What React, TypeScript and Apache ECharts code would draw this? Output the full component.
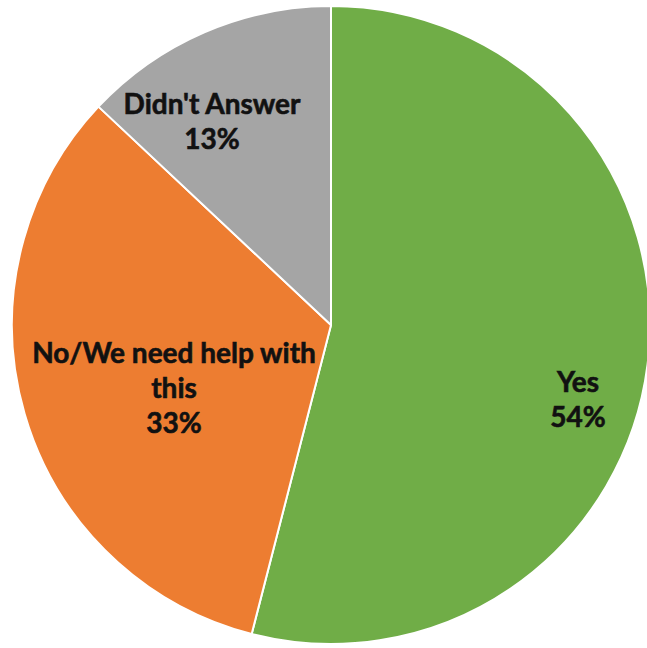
import React, { useEffect, useRef } from "react";
import * as echarts from "echarts";

const categories = ["Yes", "No/We need help with\nthis", "Didn't Answer"];
const values = [54, 33, 13];
const colors = ["#70AD47", "#ED7D31", "#A5A5A5"];
const labelPositions = [
  [578, 398],
  [174, 387],
  [212, 120],
];

export default function App() {
  const ref = useRef<HTMLDivElement>(null);
  useEffect(() => {
    if (!ref.current) return;
    const chart = echarts.init(ref.current, undefined, { renderer: "svg" });
    chart.setOption({
      animation: false,
      backgroundColor: "#ffffff",
      series: [
        {
          type: "pie",
          center: [331, 325],
          radius: [0, 319],
          startAngle: 90,
          clockwise: true,
          avoidLabelOverlap: false,
          itemStyle: { borderColor: "#ffffff", borderWidth: 2 },
          label: {
            show: true,
            position: "inside",
            formatter: (p: any) => `${p.name}\n${p.value}%`,
            color: "#111111",
            fontFamily: "Lato",
            fontWeight: "bold",
            fontSize: 28,
            lineHeight: 35,
            align: "center",
            verticalAlign: "middle",
            textBorderColor: "#111111",
            textBorderWidth: 0.6,
          },
          labelLine: { show: false },
          labelLayout: (params: any) => {
            const pos = labelPositions[params.dataIndex];
            return { x: pos[0], y: pos[1], align: "center", verticalAlign: "middle" };
          },
          data: categories.map((c, i) => ({
            name: c,
            value: values[i],
            itemStyle: { color: colors[i] },
          })),
        },
      ],
    });
    return () => chart.dispose();
  }, []);
  return <div ref={ref} style={{ width: 647, height: 648, position: "absolute", left: 0, top: 0 }} />;
}
